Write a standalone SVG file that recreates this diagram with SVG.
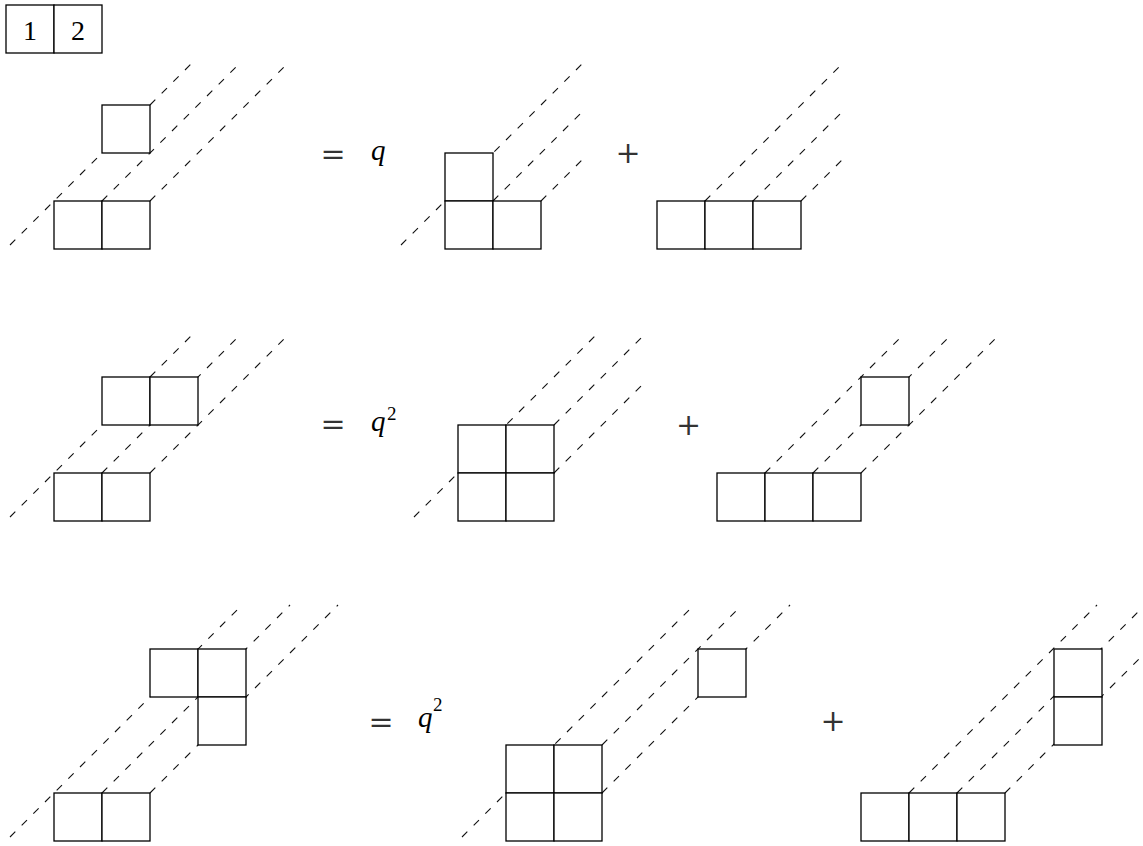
<svg xmlns="http://www.w3.org/2000/svg" width="1143" height="846" viewBox="0 0 1143 846">
<style>
.c{fill:#fff;stroke:#000;stroke-width:1.3}
.d{fill:none;stroke:#111;stroke-width:1.1;stroke-dasharray:7.5 9}
.t{font-family:"Liberation Serif",serif;font-size:28px;fill:#000}
.i{font-family:"Liberation Serif",serif;font-style:italic;font-size:29px;fill:#000}
.s{font-family:"Liberation Serif",serif;font-size:19px;fill:#000}
.o{font-family:"DejaVu Serif",serif;font-size:30px;fill:#333;text-anchor:middle}
</style>
<rect width="1143" height="846" fill="#fff"/>
<g id="connectors">
<line class="d" x1="10" y1="245" x2="193" y2="62"/>
<line class="d" x1="102" y1="201" x2="241" y2="62"/>
<line class="d" x1="150" y1="201" x2="289" y2="62"/>
<line class="d" x1="401" y1="245" x2="584" y2="62"/>
<line class="d" x1="493" y1="201" x2="584" y2="110"/>
<line class="d" x1="541" y1="201" x2="584" y2="158"/>
<line class="d" x1="705" y1="201" x2="844" y2="62"/>
<line class="d" x1="753" y1="201" x2="844" y2="110"/>
<line class="d" x1="801" y1="201" x2="844" y2="158"/>
<line class="d" x1="10" y1="517" x2="193" y2="334"/>
<line class="d" x1="102" y1="473" x2="241" y2="334"/>
<line class="d" x1="150" y1="473" x2="289" y2="334"/>
<line class="d" x1="414" y1="517" x2="597" y2="334"/>
<line class="d" x1="554" y1="425" x2="645" y2="334"/>
<line class="d" x1="554" y1="473" x2="645" y2="382"/>
<line class="d" x1="765" y1="473" x2="904" y2="334"/>
<line class="d" x1="813" y1="473" x2="952" y2="334"/>
<line class="d" x1="861" y1="473" x2="1000" y2="334"/>
<line class="d" x1="10" y1="837" x2="242" y2="605"/>
<line class="d" x1="102" y1="793" x2="290" y2="605"/>
<line class="d" x1="150" y1="793" x2="338" y2="605"/>
<line class="d" x1="462" y1="837" x2="694" y2="605"/>
<line class="d" x1="602" y1="745" x2="742" y2="605"/>
<line class="d" x1="602" y1="793" x2="790" y2="605"/>
<line class="d" x1="909" y1="793" x2="1097" y2="605"/>
<line class="d" x1="957" y1="793" x2="1145" y2="605"/>
<line class="d" x1="1005" y1="793" x2="1193" y2="605"/>
</g>
<g id="label">
<rect class="c" x="6" y="5" width="48" height="48"/>
<rect class="c" x="54" y="5" width="48" height="48"/>
<text class="t" x="30" y="40" text-anchor="middle">1</text>
<text class="t" x="78" y="40" text-anchor="middle">2</text>
</g>
<g id="r1d1">
<rect class="c" x="102" y="105" width="48" height="48"/>
<rect class="c" x="54" y="201" width="48" height="48"/>
<rect class="c" x="102" y="201" width="48" height="48"/>
</g>
<g id="r1eq">
<text class="o" x="333" y="163.5">=</text>
<text class="i" x="371" y="160">q</text>
</g>
<g id="r1d2">
<rect class="c" x="445" y="153" width="48" height="48"/>
<rect class="c" x="445" y="201" width="48" height="48"/>
<rect class="c" x="493" y="201" width="48" height="48"/>
</g>
<g id="r1plus"><text class="o" x="628" y="163">+</text></g>
<g id="r1d3">
<rect class="c" x="657" y="201" width="48" height="48"/>
<rect class="c" x="705" y="201" width="48" height="48"/>
<rect class="c" x="753" y="201" width="48" height="48"/>
</g>
<g id="r2d1">
<rect class="c" x="102" y="377" width="48" height="48"/>
<rect class="c" x="150" y="377" width="48" height="48"/>
<rect class="c" x="54" y="473" width="48" height="48"/>
<rect class="c" x="102" y="473" width="48" height="48"/>
</g>
<g id="r2eq">
<text class="o" x="333" y="433.5">=</text>
<text class="i" x="371" y="431">q</text>
<text class="s" x="387" y="420">2</text>
</g>
<g id="r2d2">
<rect class="c" x="458" y="425" width="48" height="48"/>
<rect class="c" x="506" y="425" width="48" height="48"/>
<rect class="c" x="458" y="473" width="48" height="48"/>
<rect class="c" x="506" y="473" width="48" height="48"/>
</g>
<g id="r2plus"><text class="o" x="688.5" y="435">+</text></g>
<g id="r2d3">
<rect class="c" x="861" y="377" width="48" height="48"/>
<rect class="c" x="717" y="473" width="48" height="48"/>
<rect class="c" x="765" y="473" width="48" height="48"/>
<rect class="c" x="813" y="473" width="48" height="48"/>
</g>
<g id="r3d1">
<rect class="c" x="150" y="649" width="48" height="48"/>
<rect class="c" x="198" y="649" width="48" height="48"/>
<rect class="c" x="198" y="697" width="48" height="48"/>
<rect class="c" x="54" y="793" width="48" height="48"/>
<rect class="c" x="102" y="793" width="48" height="48"/>
</g>
<g id="r3eq">
<text class="o" x="381" y="731.5">=</text>
<text class="i" x="418" y="727">q</text>
<text class="s" x="433" y="711">2</text>
</g>
<g id="r3d2">
<rect class="c" x="698" y="649" width="48" height="48"/>
<rect class="c" x="506" y="745" width="48" height="48"/>
<rect class="c" x="554" y="745" width="48" height="48"/>
<rect class="c" x="506" y="793" width="48" height="48"/>
<rect class="c" x="554" y="793" width="48" height="48"/>
</g>
<g id="r3plus"><text class="o" x="833" y="731">+</text></g>
<g id="r3d3">
<rect class="c" x="1054" y="649" width="48" height="48"/>
<rect class="c" x="1054" y="697" width="48" height="48"/>
<rect class="c" x="861" y="793" width="48" height="48"/>
<rect class="c" x="909" y="793" width="48" height="48"/>
<rect class="c" x="957" y="793" width="48" height="48"/>
</g>
</svg>
